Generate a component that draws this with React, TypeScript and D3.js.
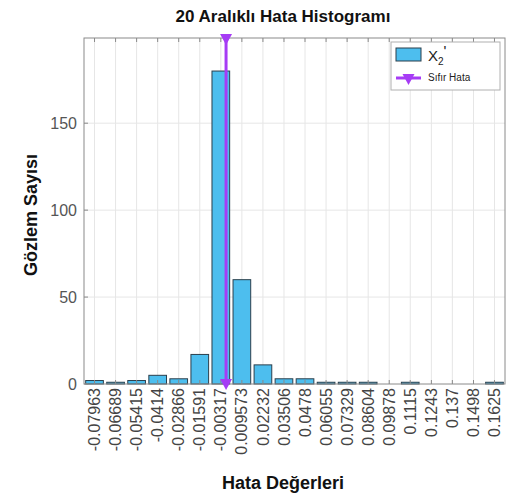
import React, { useEffect, useRef } from "react";
import * as d3 from "d3";

// bin centres (as printed on the x axis) and counts per bin
const binLabels = [
  "-0.07963", "-0.06689", "-0.05415", "-0.0414", "-0.02866",
  "-0.01591", "-0.00317", "0.009573", "0.02232", "0.03506",
  "0.0478", "0.06055", "0.07329", "0.08604", "0.09878",
  "0.1115", "0.1243", "0.137", "0.1498", "0.1625",
];
const binCenters = binLabels.map(Number);
const counts = [2, 1, 2, 5, 3, 17, 180, 60, 11, 3, 3, 1, 1, 1, 0, 1, 0, 0, 0, 1];
const yTicks = [0, 50, 100, 150];
const zeroError = 0;

const W = 511;
const H = 504;
const FONT = "'Liberation Sans', Arial, Helvetica, sans-serif";

const App = () => {
  const svgRef = useRef<SVGSVGElement>(null);

  useEffect(() => {
    const svg = d3.select(svgRef.current);
    svg.selectAll("*").remove();

    const margin = { top: 38, right: 6, bottom: 120, left: 84 };
    const width = W - margin.left - margin.right;
    const height = H - margin.top - margin.bottom;
    const binW = binCenters[1] - binCenters[0];

    const x = d3
      .scaleLinear()
      .domain([binCenters[0] - binW / 2, binCenters[binCenters.length - 1] + binW / 2])
      .range([0, width]);
    const y = d3.scaleLinear().domain([0, 199]).range([height, 0]);

    const g = svg
      .append("g")
      .attr("transform", `translate(${margin.left},${margin.top})`);

    // grid
    g.selectAll(".vgrid")
      .data(binCenters)
      .enter()
      .append("line")
      .attr("x1", (d) => x(d))
      .attr("x2", (d) => x(d))
      .attr("y1", 0)
      .attr("y2", height)
      .attr("stroke", "#e6e6e6")
      .attr("stroke-width", 1);
    g.selectAll(".hgrid")
      .data(yTicks.slice(1))
      .enter()
      .append("line")
      .attr("x1", 0)
      .attr("x2", width)
      .attr("y1", (d) => y(d))
      .attr("y2", (d) => y(d))
      .attr("stroke", "#e6e6e6")
      .attr("stroke-width", 1);

    // bars
    const barW = (x(binCenters[1]) - x(binCenters[0])) * 0.84;
    g.selectAll(".bar")
      .data(counts)
      .enter()
      .append("rect")
      .attr("x", (d, i) => x(binCenters[i]) - barW / 2)
      .attr("y", (d) => y(d))
      .attr("width", barW)
      .attr("height", (d) => height - y(d))
      .attr("fill", "#4dbeee")
      .attr("stroke", "#2b3f4c")
      .attr("stroke-width", 1);

    // frame
    g.append("rect")
      .attr("x", 0)
      .attr("y", 0)
      .attr("width", width)
      .attr("height", height)
      .attr("fill", "none")
      .attr("stroke", "#8a8a8a")
      .attr("stroke-width", 1);

    // top and bottom ticks
    binCenters.forEach((c) => {
      g.append("line")
        .attr("x1", x(c)).attr("x2", x(c))
        .attr("y1", 0).attr("y2", 4)
        .attr("stroke", "#8a8a8a");
      g.append("line")
        .attr("x1", x(c)).attr("x2", x(c))
        .attr("y1", height).attr("y2", height - 4)
        .attr("stroke", "#8a8a8a");
    });
    yTicks.forEach((t) => {
      g.append("line")
        .attr("x1", 0).attr("x2", 4)
        .attr("y1", y(t)).attr("y2", y(t))
        .attr("stroke", "#8a8a8a");
    });

    // zero error line
    const purple = "#a63cf5";
    const zx = x(zeroError);
    g.append("line")
      .attr("x1", zx).attr("x2", zx)
      .attr("y1", 0).attr("y2", height)
      .attr("stroke", purple)
      .attr("stroke-width", 3);
    const tri = (cx: number, cy: number) =>
      `M${cx - 6},${cy - 8}L${cx + 6},${cy - 8}L${cx},${cy + 3}Z`;
    g.append("path").attr("d", tri(zx, height + 3)).attr("fill", purple);
    g.append("path").attr("d", tri(zx, 4)).attr("fill", purple);

    // y tick labels
    g.selectAll(".ylab")
      .data(yTicks)
      .enter()
      .append("text")
      .attr("x", -7)
      .attr("y", (d) => y(d))
      .attr("dy", "0.35em")
      .attr("text-anchor", "end")
      .attr("font-family", FONT)
      .attr("font-size", 16)
      .attr("fill", "#555")
      .text((d) => d);

    // x tick labels (rotated)
    g.selectAll(".xlab")
      .data(binLabels)
      .enter()
      .append("text")
      .attr("transform", (d, i) => `translate(${x(binCenters[i])},${height + 4}) rotate(-90)`)
      .attr("dy", "0.35em")
      .attr("text-anchor", "end")
      .attr("font-family", FONT)
      .attr("font-size", 16)
      .attr("fill", "#444")
      .text((d) => d);

    // legend
    const lg = g.append("g").attr("transform", `translate(${width - 114},4)`);
    lg.append("rect")
      .attr("width", 109).attr("height", 48)
      .attr("fill", "#fff").attr("stroke", "#b0b0b0");
    lg.append("rect")
      .attr("x", 5).attr("y", 6).attr("width", 25).attr("height", 13)
      .attr("fill", "#4dbeee").attr("stroke", "#2b3f4c");
    const xl = lg.append("text")
      .attr("x", 37).attr("y", 19)
      .attr("font-family", FONT).attr("font-size", 15).attr("fill", "#222");
    xl.append("tspan").text("X");
    xl.append("tspan").attr("font-size", 10).attr("dy", 4).text("2");
    xl.append("tspan").attr("dy", -9).text("'");
    lg.append("line")
      .attr("x1", 5).attr("x2", 30).attr("y1", 36).attr("y2", 36)
      .attr("stroke", purple).attr("stroke-width", 3);
    lg.append("path").attr("d", tri(17.5, 40)).attr("fill", purple);
    lg.append("text")
      .attr("x", 37).attr("y", 39)
      .attr("font-family", FONT).attr("font-size", 10).attr("fill", "#222")
      .text("Sıfır Hata");

    // titles
    svg.append("text")
      .attr("x", 283).attr("y", 22)
      .attr("text-anchor", "middle")
      .attr("font-family", FONT).attr("font-weight", "bold").attr("font-size", 17)
      .attr("fill", "#111")
      .text("20 Aralıklı Hata Histogramı");
    svg.append("text")
      .attr("x", 283).attr("y", 489)
      .attr("text-anchor", "middle")
      .attr("font-family", FONT).attr("font-weight", "bold").attr("font-size", 18)
      .attr("fill", "#111")
      .text("Hata Değerleri");
    svg.append("text")
      .attr("transform", `translate(37,${margin.top + height / 2 + 4}) rotate(-90)`)
      .attr("text-anchor", "middle")
      .attr("font-family", FONT).attr("font-weight", "bold").attr("font-size", 18)
      .attr("fill", "#111")
      .text("Gözlem Sayısı");
  }, []);

  return (
    <svg
      ref={svgRef}
      width={W}
      height={H}
      style={{ position: "absolute", left: 0, top: 0, background: "#fff" }}
    />
  );
};

export default App;
